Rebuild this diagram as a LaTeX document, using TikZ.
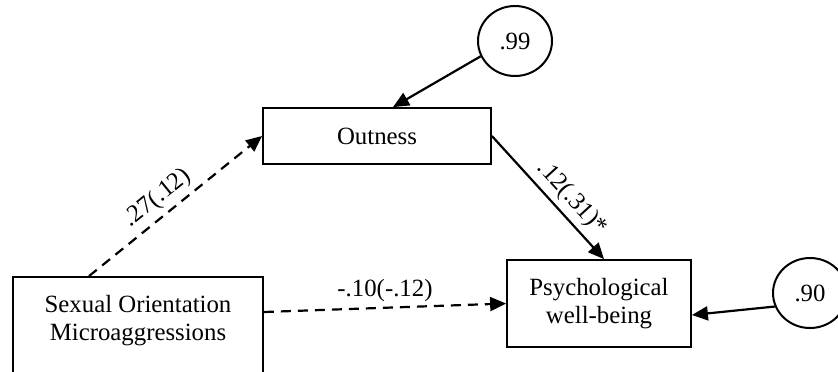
\documentclass[tikz,border=0pt]{standalone}
\usepackage{fontspec}
\setmainfont{Liberation Serif}
\usetikzlibrary{shapes.geometric,arrows.meta}
\tikzset{
  varnode/.style = {draw=black, line width=0.9pt, align=center, inner sep=0pt, font=\fontsize{12.4}{14}\selectfont},
  errnode/.style = {ellipse, draw=black, line width=1pt, minimum width=37pt, minimum height=35pt, inner sep=0pt, font=\fontsize{12.4}{14}\selectfont},
  path_s/.style = {line width=1.1pt, -{Triangle[length=8pt,width=7pt]}},
  path_d/.style = {path_s, dash pattern=on 5pt off 3.5pt},
  coef/.style = {inner sep=2.5pt, font=\fontsize{12.4}{14}\selectfont}
}
\begin{document}
\begin{tikzpicture}[x=0.5pt,y=-0.5pt]
	\useasboundingbox (0,0) rectangle (838,371);
	\node [varnode, minimum width=114pt, minimum height=28pt] (out) at (377,136) {Outness};
	\node [varnode, minimum width=92pt, minimum height=43.5pt] (psy) at (599,303.5) {Psychological\\well-being};
	\node [varnode, minimum width=125pt, minimum height=59pt] (so) at (138,336) {Sexual Orientation\\Microaggressions\\\strut};
	\node [errnode] (e1) at (515,41) {.99};
	\node [errnode] (e2) at (810,293) {.90};
	\draw [path_s] (e1.204) -- ([xshift=8pt]out.north);
	\draw [path_s] (e2.201) -- ([yshift=-5.75pt]psy.east);
	\draw [path_s] (out.east) -- ([xshift=2.5pt]psy.north)
		node [coef, sloped, above, pos=0.6] {.12(.31)*};
	\draw [path_d] ([xshift=-24.5pt]so.north) -- (out.west)
		node [coef, sloped, above, pos=0.46] {.27(.12)};
	\draw [path_d] ([yshift=12pt]so.east) -- (psy.west)
		node [coef, above, midway] {-.10(-.12)};
\end{tikzpicture}
\end{document}
